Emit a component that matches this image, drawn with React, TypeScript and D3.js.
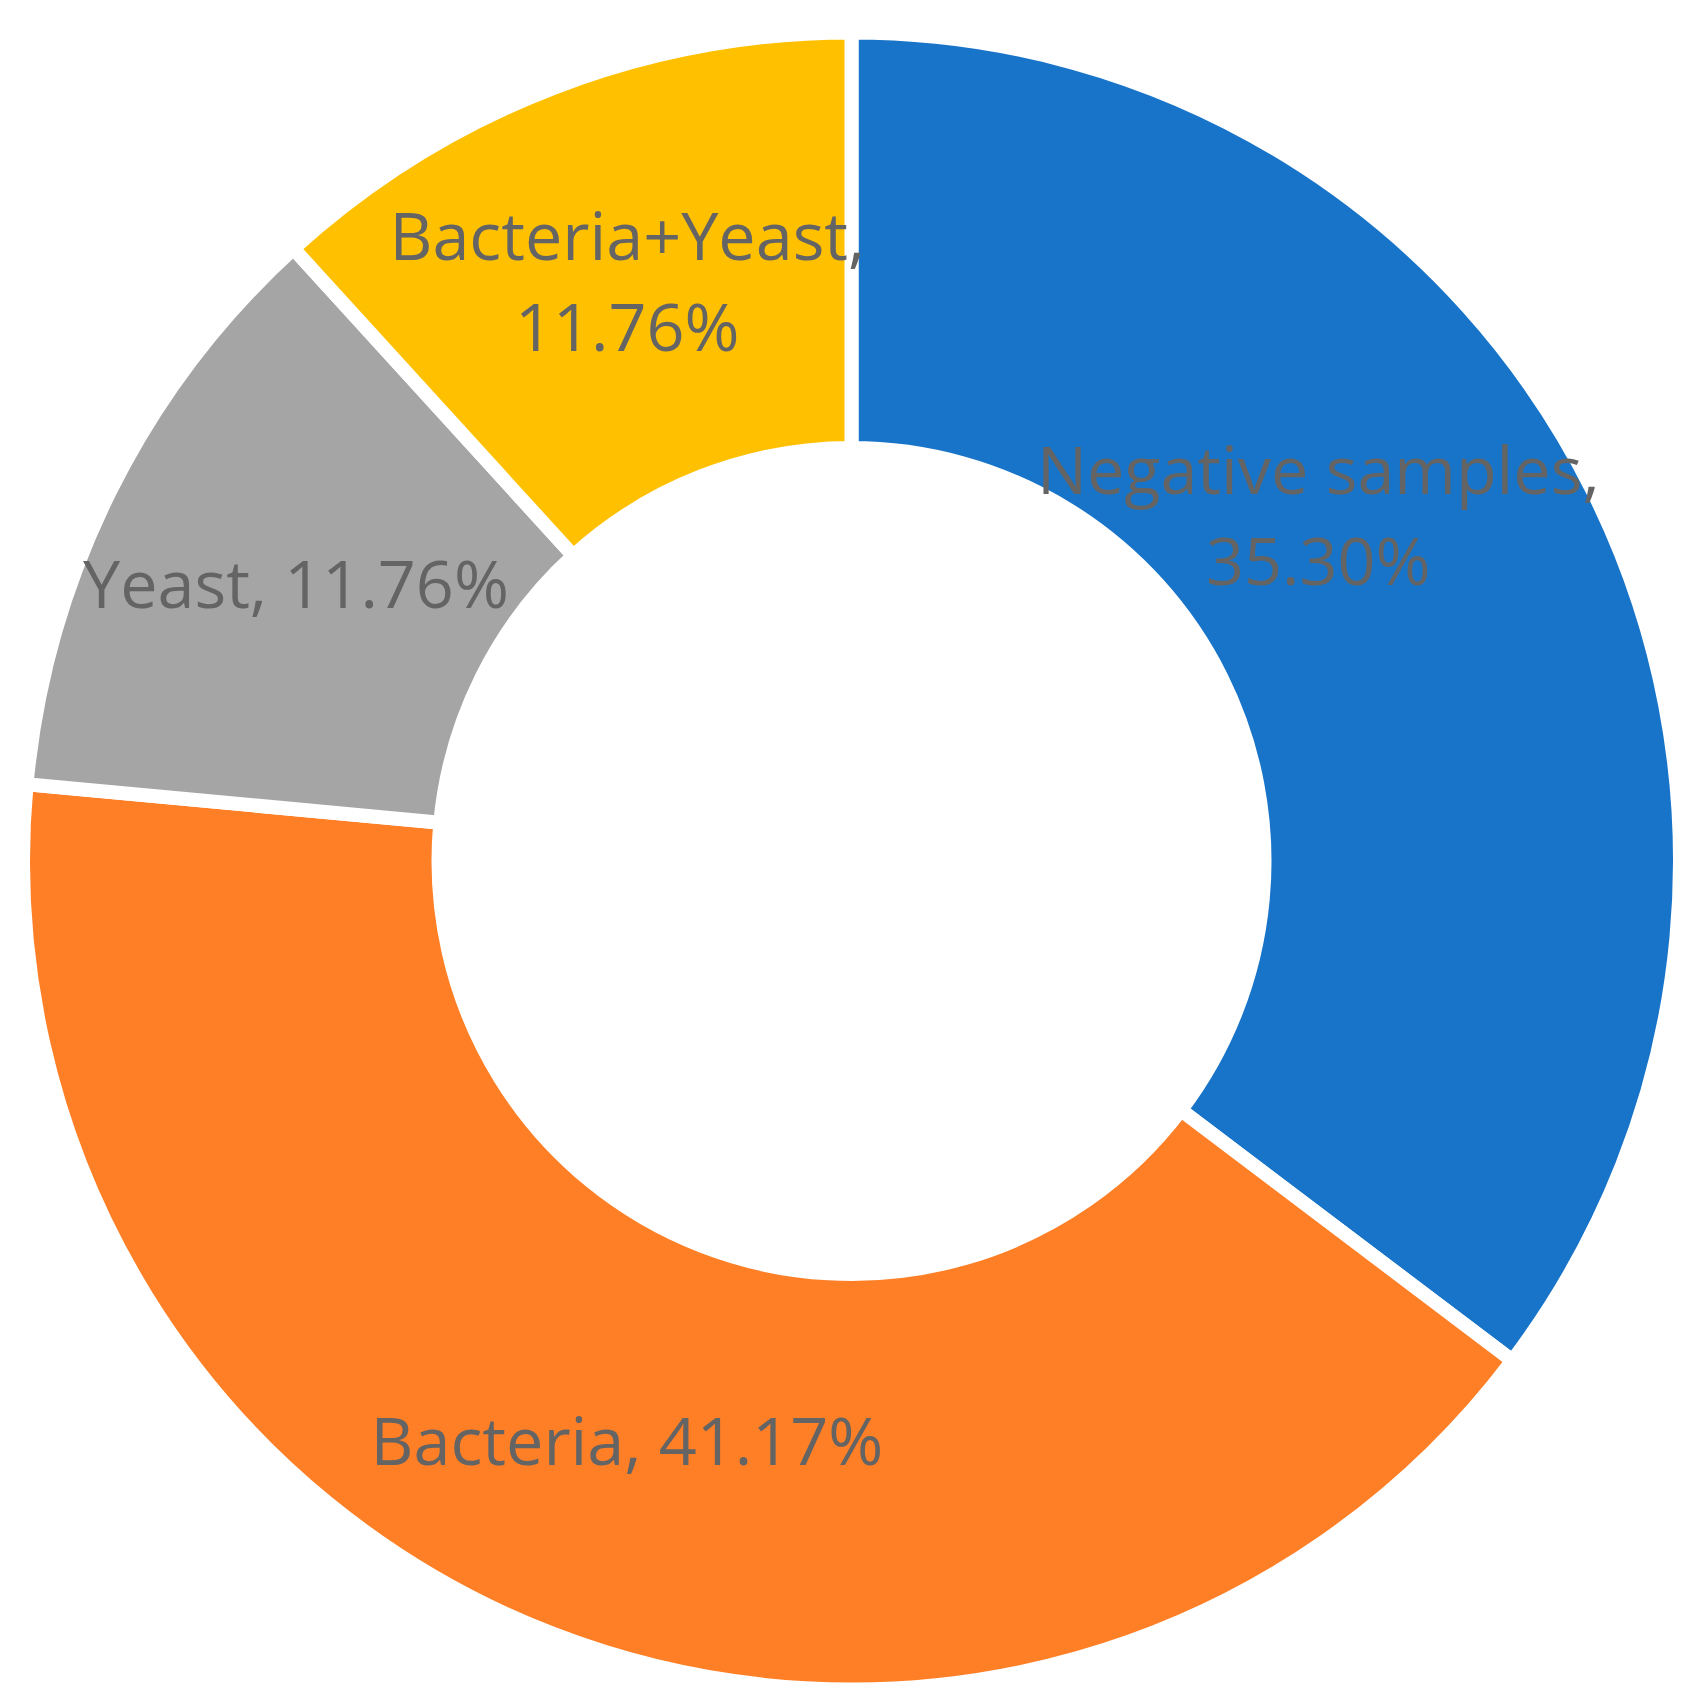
import React from "react";
import * as d3 from "d3";

const categories = ["Negative samples", "Bacteria", "Yeast", "Bacteria+Yeast"];
const values = [35.3, 41.17, 11.76, 11.76];
const labelLines = [
  ["Negative samples,", "35.30%"],
  ["Bacteria, 41.17%"],
  ["Yeast, 11.76%"],
  ["Bacteria+Yeast,", "11.76%"],
];
const colors = ["#1874C8", "#FE7F26", "#A5A5A5", "#FFC000"];

const W = 1708;
const H = 1708;
const CX = 851.5;
const CY = 861;
const GAP = 14;
const R_OUT = 821.5 + GAP / 2;
const R_IN = 420 - GAP / 2;
const FONT_SIZE = 66.5;
const LINE_H = 91;
const CAP = 47;

export default function App() {
  const pie = d3
    .pie<number>()
    .sort(null)
    .value((d) => d)
    .startAngle(0)
    .endAngle(2 * Math.PI);
  const arcs = pie(values);
  const arc = d3.arc<d3.PieArcDatum<number>>().innerRadius(R_IN).outerRadius(R_OUT);
  const labelArc = d3
    .arc<d3.PieArcDatum<number>>()
    .innerRadius((420 + 821.5) / 2)
    .outerRadius((420 + 821.5) / 2);
  // Excel moved the first label inward; adjust it relative to its centroid
  const labelShift: [number, number][] = [
    [-89, -68],
    [0, 2],
    [0, 0],
    [0, 0],
  ];

  return (
    <svg
      width={W}
      height={H}
      style={{ position: "absolute", left: 0, top: 0, background: "#fff" }}
    >
      <g transform={`translate(${CX},${CY})`}>
        {arcs.map((a, i) => (
          <path
            key={categories[i]}
            d={arc(a) || ""}
            fill={colors[i]}
            stroke="#fff"
            strokeWidth={GAP}
            strokeLinejoin="miter"
          />
        ))}
        {arcs.map((a, i) => {
          const [x0, y0] = labelArc.centroid(a);
          const x = x0 + labelShift[i][0];
          const y = y0 + labelShift[i][1];
          const lines = labelLines[i];
          const n = lines.length;
          const total = (n - 1) * LINE_H + CAP;
          const firstBase = y - total / 2 + CAP;
          return (
            <text
              key={"l" + i}
              textAnchor="middle"
              fontFamily="'Open Sans', 'Noto Sans', sans-serif"
              fontSize={FONT_SIZE}
              fill="#646464"
            >
              {lines.map((ln, j) => (
                <tspan key={j} x={x} y={firstBase + j * LINE_H}>
                  {ln}
                </tspan>
              ))}
            </text>
          );
        })}
      </g>
    </svg>
  );
}
